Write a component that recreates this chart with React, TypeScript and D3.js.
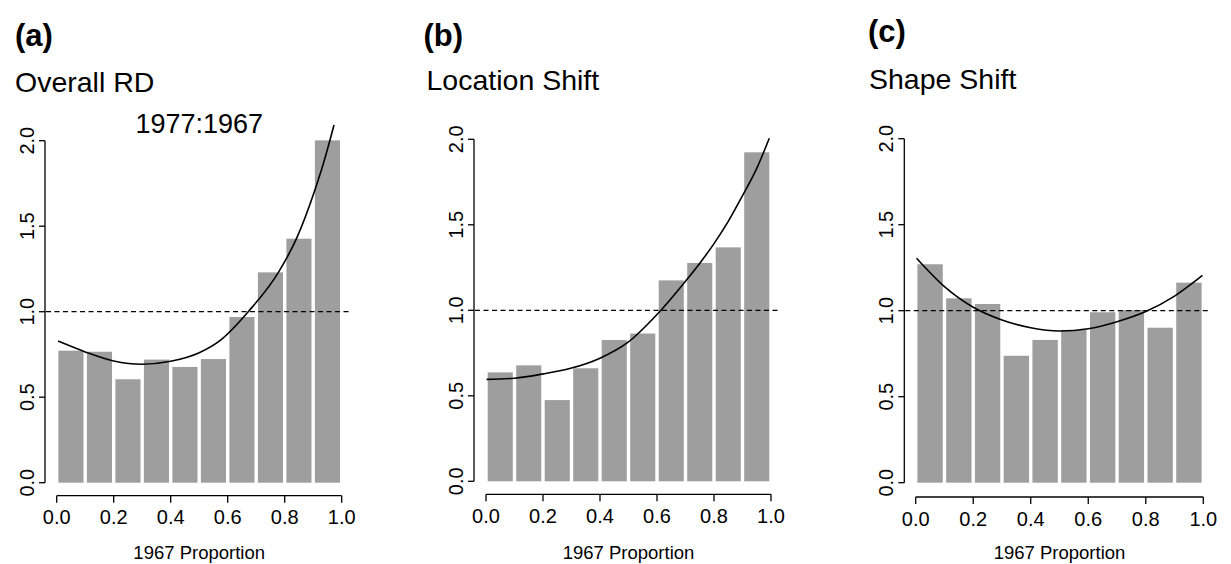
import React from "react";
import * as d3 from "d3";

// ---- data ----
const binStarts = [0, 0.1, 0.2, 0.3, 0.4, 0.5, 0.6, 0.7, 0.8, 0.9];
const xTicks = [0, 0.2, 0.4, 0.6, 0.8, 1.0];
const yTicks = [0, 0.5, 1.0, 1.5, 2.0];

const overallBars = [0.772, 0.766, 0.605, 0.72, 0.677, 0.723, 0.969, 1.23, 1.427, 2.002];
const locationBars = [0.637, 0.678, 0.475, 0.661, 0.826, 0.864, 1.175, 1.277, 1.368, 1.924];
const shapeBars = [1.27, 1.072, 1.039, 0.738, 0.83, 0.888, 0.991, 1.004, 0.901, 1.163];

const overallCurve: [number, number][] = [
  [0.005, 0.828], [0.1, 0.765], [0.2, 0.712], [0.3, 0.693], [0.4, 0.71], [0.5, 0.76],
  [0.575, 0.834], [0.672, 1.0], [0.778, 1.23], [0.842, 1.43], [0.906, 1.712],
  [0.936, 1.868], [0.973, 2.092],
];
const locationCurve: [number, number][] = [
  [0.002, 0.596], [0.1, 0.603], [0.2, 0.628], [0.3, 0.662], [0.4, 0.72], [0.5, 0.815],
  [0.6, 0.975], [0.7, 1.17], [0.751, 1.277], [0.8, 1.39], [0.85, 1.52], [0.9, 1.67],
  [0.95, 1.83], [0.994, 2.006],
];
const shapeCurve: [number, number][] = [
  [0.003, 1.305], [0.1, 1.14], [0.2, 1.02], [0.3, 0.946], [0.4, 0.901], [0.5, 0.882],
  [0.6, 0.895], [0.7, 0.936], [0.8, 0.995], [0.9, 1.085], [0.997, 1.205],
];

const panelLetters = ["(a)", "(b)", "(c)"];
const panelTitles = ["Overall RD", "Location Shift", "Shape Shift"];
const subtitle = "1977:1967";
const xLabel = "1967 Proportion";
const refLine = 1.0;

// ---- layout ----
const FONT = "'Liberation Sans', Arial, Helvetica, sans-serif";
const layouts = [
  { x0: 56.7, x1: 341.7, yBase: 482.7, yTop: 140.7, yAxisX: 45, xAxisY: 495.7, letterX: 15, letterY: 46, titleX: 15, titleY: 91.5 },
  { x0: 486, x1: 771, yBase: 481.3, yTop: 139.3, yAxisX: 474, xAxisY: 494.3, letterX: 423.5, letterY: 46, titleX: 426.5, titleY: 90 },
  { x0: 915.7, x1: 1203.3, yBase: 482.7, yTop: 138.7, yAxisX: 904.3, xAxisY: 497, letterX: 868, letterY: 42, titleX: 869, titleY: 88.5 },
];

const panelsData = [
  { bars: overallBars, curve: overallCurve },
  { bars: locationBars, curve: locationCurve },
  { bars: shapeBars, curve: shapeCurve },
];

function Panel({ idx }: { idx: number }) {
  const L = layouts[idx];
  const { bars, curve } = panelsData[idx];
  const x = d3.scaleLinear().domain([0, 1]).range([L.x0, L.x1]);
  const y = d3.scaleLinear().domain([0, 2]).range([L.yBase, L.yTop]);
  const line = d3
    .line<[number, number]>()
    .x((d) => x(d[0]))
    .y((d) => y(d[1]))
    .curve(d3.curveMonotoneX);
  const gap = 1.7;
  return (
    <g>
      <text x={L.letterX} y={L.letterY} fontFamily={FONT} fontSize={31} fontWeight="bold">
        {panelLetters[idx]}
      </text>
      <text x={L.titleX} y={L.titleY} fontFamily={FONT} fontSize={28.5}>
        {panelTitles[idx]}
      </text>
      {idx === 0 && (
        <text x={(L.x0 + L.x1) / 2} y={133} fontFamily={FONT} fontSize={27} textAnchor="middle">
          {subtitle}
        </text>
      )}
      {bars.map((v, i) => (
        <rect
          key={i}
          x={x(binStarts[i]) + gap}
          width={x(binStarts[i] + 0.1) - x(binStarts[i]) - 2 * gap}
          y={y(v)}
          height={y(0) - y(v)}
          fill="#9e9e9e"
        />
      ))}
      <line
        x1={L.yAxisX + 1}
        x2={x(1.025)}
        y1={y(refLine)}
        y2={y(refLine)}
        stroke="#000"
        strokeWidth={1.3}
        strokeDasharray="5,3.5"
      />
      <path d={line(curve) || ""} fill="none" stroke="#000" strokeWidth={1.6} />
      {/* y axis */}
      <line x1={L.yAxisX} x2={L.yAxisX} y1={y(0)} y2={y(2)} stroke="#000" strokeWidth={1.3} />
      {yTicks.map((t) => (
        <g key={t}>
          <line x1={L.yAxisX - 6} x2={L.yAxisX} y1={y(t)} y2={y(t)} stroke="#000" strokeWidth={1.3} />
          <text
            transform={`translate(${L.yAxisX - 11.5},${y(t)}) rotate(-90)`}
            textAnchor="middle"
            fontFamily={FONT}
            fontSize={20}
          >
            {t.toFixed(1)}
          </text>
        </g>
      ))}
      {/* x axis */}
      <line x1={x(0)} x2={x(1)} y1={L.xAxisY} y2={L.xAxisY} stroke="#000" strokeWidth={1.3} />
      {xTicks.map((t) => (
        <g key={t}>
          <line x1={x(t)} x2={x(t)} y1={L.xAxisY} y2={L.xAxisY + 7} stroke="#000" strokeWidth={1.3} />
          <text x={x(t)} y={L.xAxisY + 28.5} textAnchor="middle" fontFamily={FONT} fontSize={20}>
            {t.toFixed(1)}
          </text>
        </g>
      ))}
      <text x={(L.x0 + L.x1) / 2} y={559} textAnchor="middle" fontFamily={FONT} fontSize={18.5}>
        {xLabel}
      </text>
    </g>
  );
}

export default function App() {
  return (
    <svg
      width={1231}
      height={564}
      style={{ position: "absolute", left: 0, top: 0, background: "#fff" }}
    >
      <rect width={1231} height={564} fill="#fff" />
      {[0, 1, 2].map((i) => (
        <Panel key={i} idx={i} />
      ))}
    </svg>
  );
}
